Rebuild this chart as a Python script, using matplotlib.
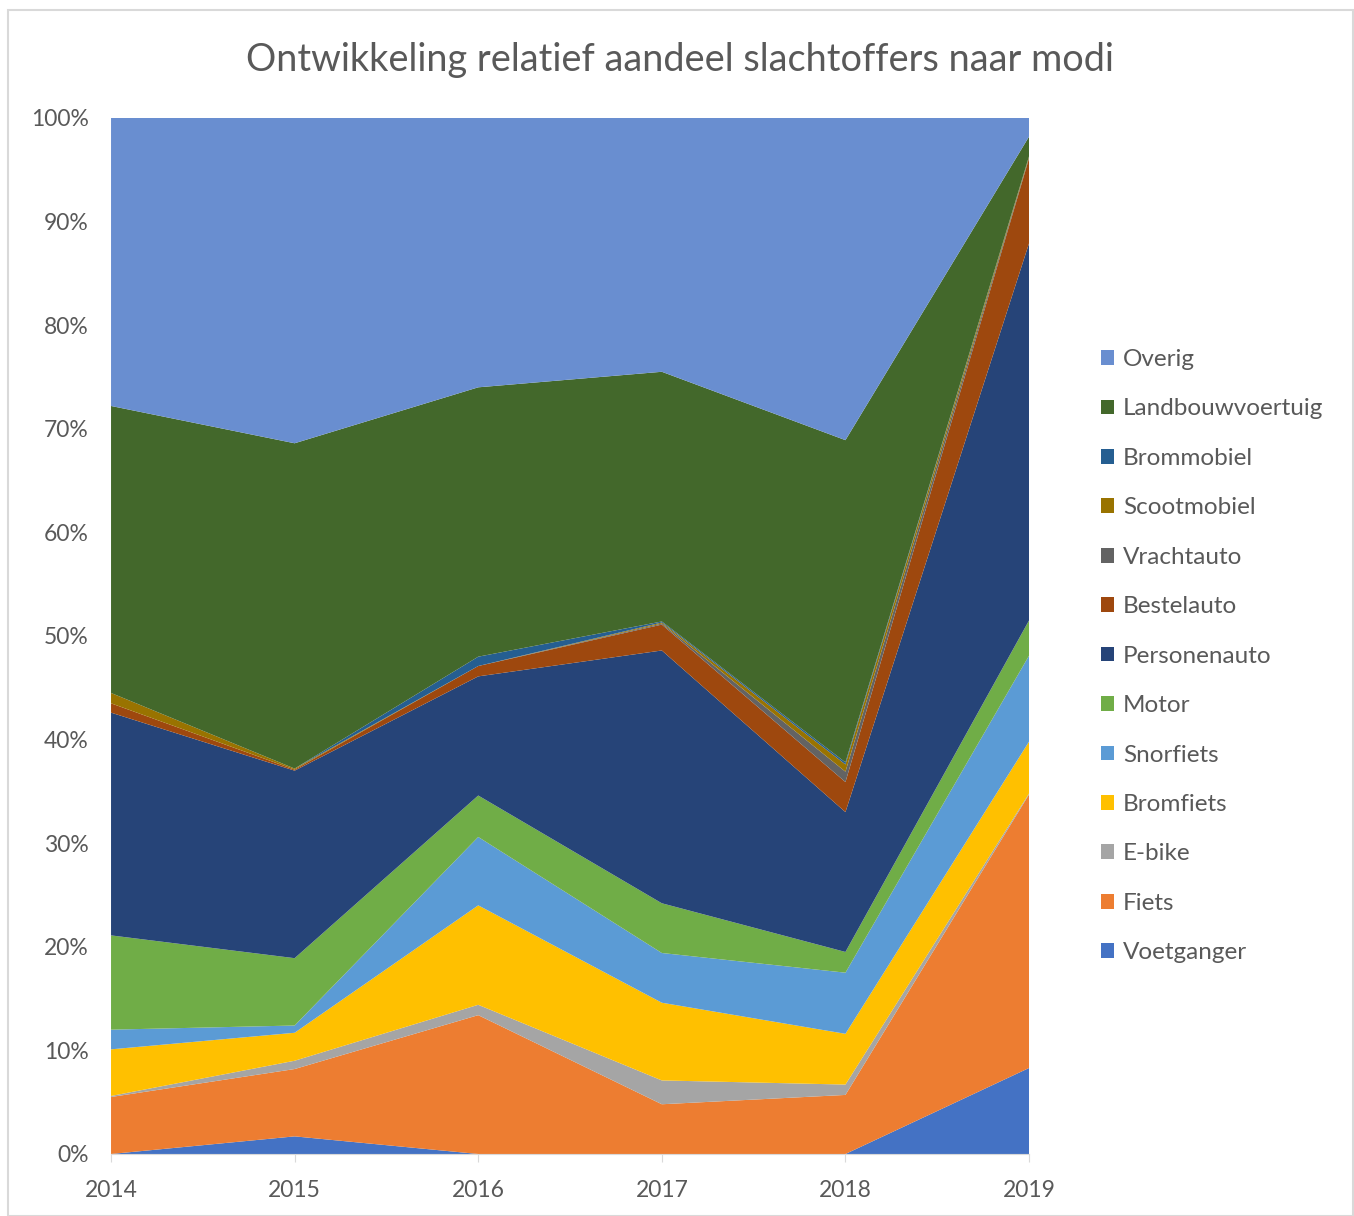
import matplotlib.pyplot as plt
from matplotlib.patches import Patch, Rectangle
from matplotlib.ticker import FuncFormatter

plt.rcParams['font.family'] = ['Lato', 'DejaVu Sans']

jaren = [2014, 2015, 2016, 2017, 2018, 2019]

# aandeel slachtoffers per modaliteit (%)
voetganger = [0.0, 1.7, 0.0, 0.0, 0.0, 8.3]
fiets = [5.5, 6.5, 13.4, 4.8, 5.7, 26.4]
ebike = [0.1, 0.8, 1.0, 2.3, 1.0, 0.1]
bromfiets = [4.5, 2.7, 9.6, 7.5, 4.9, 5.0]
snorfiets = [1.9, 0.7, 6.6, 4.8, 5.9, 8.3]
motor = [9.1, 6.5, 4.0, 4.8, 2.0, 3.4]
personenauto = [21.5, 18.1, 11.5, 24.4, 13.5, 36.4]
bestelauto = [0.9, 0.1, 1.0, 2.5, 2.9, 8.2]
vrachtauto = [0.0, 0.0, 0.0, 0.1, 1.0, 0.1]
scootmobiel = [1.0, 0.1, 0.0, 0.1, 0.7, 0.1]
brommobiel = [0.0, 0.0, 0.9, 0.1, 0.2, 0.0]
landbouwvoertuig = [27.7, 31.4, 26.0, 24.1, 31.1, 1.9]
overig = [27.8, 31.4, 26.0, 24.5, 31.1, 1.8]

modi = ['Voetganger', 'Fiets', 'E-bike', 'Bromfiets', 'Snorfiets', 'Motor',
        'Personenauto', 'Bestelauto', 'Vrachtauto', 'Scootmobiel',
        'Brommobiel', 'Landbouwvoertuig', 'Overig']
reeksen = [voetganger, fiets, ebike, bromfiets, snorfiets, motor,
           personenauto, bestelauto, vrachtauto, scootmobiel, brommobiel,
           landbouwvoertuig, overig]
kleuren = ['#4472C4', '#ED7D31', '#A5A5A5', '#FFC000', '#5B9BD5', '#70AD47',
           '#264478', '#9E480E', '#636363', '#997300', '#255E91', '#43682B',
           '#698ED0']

tekst = '#595959'

fig = plt.figure(figsize=(13.54, 12.16), dpi=100)
fig.patches.append(Rectangle((0.006, 0.0), 0.993, 0.992, transform=fig.transFigure,
                             fill=False, edgecolor='#D9D9D9', linewidth=1.5))
ax = fig.add_axes([0.082, 0.051, 0.678, 0.852])

ax.stackplot(jaren, *reeksen, colors=kleuren, linewidth=0)

ax.set_xlim(2014, 2019)
ax.set_ylim(0, 100)
ax.set_xticks(jaren)
ax.set_yticks(range(0, 101, 10))
ax.yaxis.set_major_formatter(FuncFormatter(lambda v, _: f'{v:.0f}%'))
ax.tick_params(axis='y', length=0, labelsize=16.5, labelcolor=tekst, pad=16)
ax.tick_params(axis='x', length=6, color='#D9D9D9', labelsize=16.5,
               labelcolor=tekst, pad=13)
for kant in ['top', 'right', 'left']:
    ax.spines[kant].set_visible(False)
ax.spines['bottom'].set_color('#D9D9D9')

fig.text(0.502, 0.951, 'Ontwikkeling relatief aandeel slachtoffers naar modi',
         ha='center', va='center', fontsize=27.3, color=tekst)

handles = [Patch(facecolor=k, edgecolor='none', label=m)
           for m, k in zip(modi, kleuren)][::-1]
fig.legend(handles=handles, loc='center left', bbox_to_anchor=(0.797, 0.4604),
           frameon=False, fontsize=17.5, labelcolor=tekst, handlelength=0.55,
           handleheight=0.55, handletextpad=0.35, labelspacing=1.17)

fig.savefig('out.png', dpi=100)
